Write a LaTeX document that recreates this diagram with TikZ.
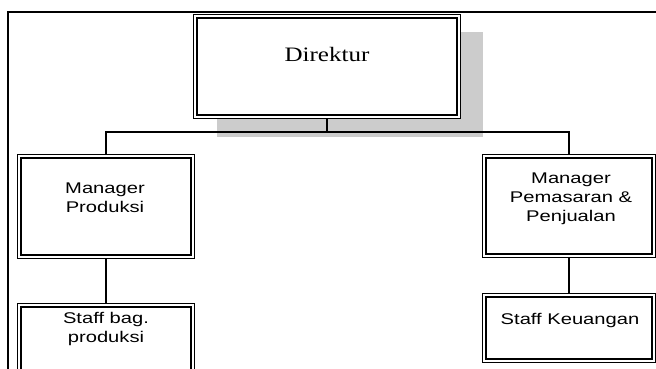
\documentclass[tikz,border=0pt]{standalone}
\usepackage{fontspec}
\usetikzlibrary{backgrounds}
\setmainfont{Liberation Serif}
\newfontfamily\serifwide[FakeStretch=1.22]{Liberation Serif}
\newfontfamily\sanswide[FakeStretch=1.3]{Liberation Sans}
\definecolor{shadowgray}{HTML}{CCCCCC}
\tikzset{
  orgbox/.style={draw=black, fill=white, line width=1.2pt, double=white,
    double distance=2.2pt, inner sep=0pt},
  conn/.style={draw=black, line width=1.2pt},
  frameline/.style={draw=black, line width=2pt},
  toplabel/.style={inner sep=0pt, anchor=base, align=center,
    font=\serifwide\fontsize{20.5}{24}\selectfont},
  % multi-line labels are placed by the baseline of their last line
  unitlabel/.style={inner sep=0pt, anchor=base, align=center,
    font=\sanswide\fontsize{15.5}{18.8}\selectfont}
}
\begin{document}
\begin{tikzpicture}[x=1pt, y=-1pt]
  \useasboundingbox (0,0) rectangle (656,369);

  % page frame (left and top edges)
  \coordinate (frameBL) at (8,372);
  \coordinate (frameTL) at (8,12);
  \coordinate (frameTR) at (660,12);
  \draw[frameline] (frameBL) -- (frameTL) -- (frameTR);

  % boxes
  \node[orgbox, minimum width=263.4pt, minimum height=100.4pt] (dir) at (327,66.5) {};
  \node[orgbox, minimum width=173.4pt, minimum height=100.4pt] (mp)  at (106,206.5) {};
  \node[orgbox, minimum width=169.4pt, minimum height=99.4pt]  (mpp) at (569,206) {};
  \node[orgbox, minimum width=173.4pt, minimum height=82.4pt]  (sp)  at (106,346.5) {};
  \node[orgbox, minimum width=169.4pt, minimum height=65.4pt]  (sk)  at (569,328) {};

  \begin{pgfonlayer}{background}
    % drop shadow behind the top box
    \fill[shadowgray] (217,32) rectangle (483,137);
    % connectors
    \coordinate (bar) at (327,132);
    \draw[conn] (dir.south) -- (bar);
    \draw[conn] (mp.north) -- (mp.north |- bar) -- (mpp.north |- bar) -- (mpp.north);
    \draw[conn] (mp.south) -- (sp.north);
    \draw[conn] (mpp.south) -- (sk.north);
  \end{pgfonlayer}

  % labels
  \node[toplabel]  (tdir) at (327,61.7) {Direktur};
  \node[unitlabel] (tmp)  at (105,212) {Manager\\Produksi};
  \node[unitlabel] (tmpp) at (571,221) {Manager\\Pemasaran \&\\Penjualan};
  \node[unitlabel] (tsp)  at (106,342) {Staff bag.\\produksi};
  \node[unitlabel] (tsk)  at (570,324) {Staff Keuangan};
\end{tikzpicture}
\end{document}
